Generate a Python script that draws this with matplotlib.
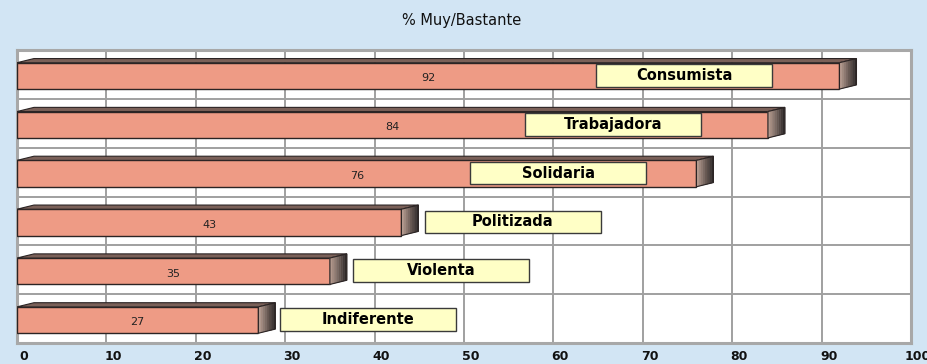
import matplotlib.pyplot as plt
import numpy as np
from matplotlib.patches import Polygon, Rectangle
from matplotlib.colors import to_rgb
from matplotlib.transforms import ScaledTranslation

# Data
categorias = ["Consumista", "Trabajadora", "Solidaria", "Politizada", "Violenta", "Indiferente"]
valores = [92, 84, 76, 43, 35, 27]
# left edge of each yellow label box, in axis units
caja_izq = [64.8, 56.8, 50.7, 45.6, 37.6, 29.4]
ticks_x = [0, 10, 20, 30, 40, 50, 60, 70, 80, 90, 100]

FONDO = "#D2E5F4"
BARRA = "#EE9B85"
BORDE = "#2b2424"

plt.rcParams['font.family'] = ['DejaVu Sans']

fig = plt.figure(figsize=(9.27, 3.64), dpi=100, facecolor=FONDO)
ax = fig.add_axes([17 / 927, 21 / 364, 894 / 927, 293 / 364])
ax.set_facecolor("white")

alto = 0.54
dx, dy = 1.9, 0.085   # 3d depth
ancho_caja, alto_caja = 19.7, 0.465
c0, c1 = np.array(to_rgb("#bfa295")), np.array(to_rgb("#262222"))

for y, v in enumerate(valores):
    yc = y + 0.03
    y0, y1 = yc - alto / 2, yc + alto / 2
    ax.barh(yc, v, height=alto, left=0, color=BARRA, edgecolor=BORDE,
            linewidth=1.0, zorder=3)
    ax.add_patch(Polygon([(0, y0), (dx, y0 - dy), (v + dx, y0 - dy), (v, y0)],
                         closed=True, facecolor="#7a6058", edgecolor=BORDE,
                         linewidth=0.8, zorder=3))
    # side face with a light-to-dark gradient
    n = 8
    for k in range(n):
        a, b = k / n, (k + 1) / n
        col = c0 + (c1 - c0) * (k + 0.5) / n
        ax.add_patch(Polygon([(v + a * dx, y0 - a * dy), (v + b * dx, y0 - b * dy),
                              (v + b * dx, y1 - b * dy), (v + a * dx, y1 - a * dy)],
                             closed=True, facecolor=col, edgecolor=col,
                             linewidth=0.3, zorder=3))
    ax.add_patch(Polygon([(v, y0), (v + dx, y0 - dy), (v + dx, y1 - dy), (v, y1)],
                         closed=True, fill=False, edgecolor=BORDE,
                         linewidth=0.8, zorder=3))
    ax.text(v / 2, yc + 0.05, str(v), ha="center", va="center",
            fontsize=8, color="#222222", zorder=4)

for y, cat, xl in zip(range(len(categorias)), categorias, caja_izq):
    yb = y + 0.02
    ax.add_patch(Rectangle((xl, yb - alto_caja / 2), ancho_caja, alto_caja,
                           facecolor="#FFFFC6", edgecolor="#3a3a3a",
                           linewidth=1.0, zorder=5))
    ax.text(xl + ancho_caja / 2, yb, cat, ha="center", va="center",
            fontsize=10.5, fontweight="bold", color="black", zorder=6)

ax.set_xlim(0, 100)
ax.set_ylim(len(valores) - 0.5, -0.5)
ax.set_xticks(ticks_x)
ax.set_yticks([i + 0.5 for i in range(len(valores) - 1)])
ax.set_yticklabels([])
ax.grid(True, color="#a0a0a0", linewidth=1.4, zorder=0)
ax.set_axisbelow(True)
ax.tick_params(length=0, pad=5)
for lbl in ax.get_xticklabels():
    lbl.set_fontweight("bold")
    lbl.set_fontsize(9)
    lbl.set_color("#111111")
    lbl.set_transform(lbl.get_transform() + ScaledTranslation(7 / 100, 0, fig.dpi_scale_trans))
for s in ax.spines.values():
    s.set_color("#a8a8a8")
    s.set_linewidth(2.2)

fig.text(0.498, 1 - 20 / 364, "% Muy/Bastante", ha="center", va="center",
         fontsize=10.5, color="#111111")

fig.savefig("out.png", dpi=100, facecolor=FONDO)
